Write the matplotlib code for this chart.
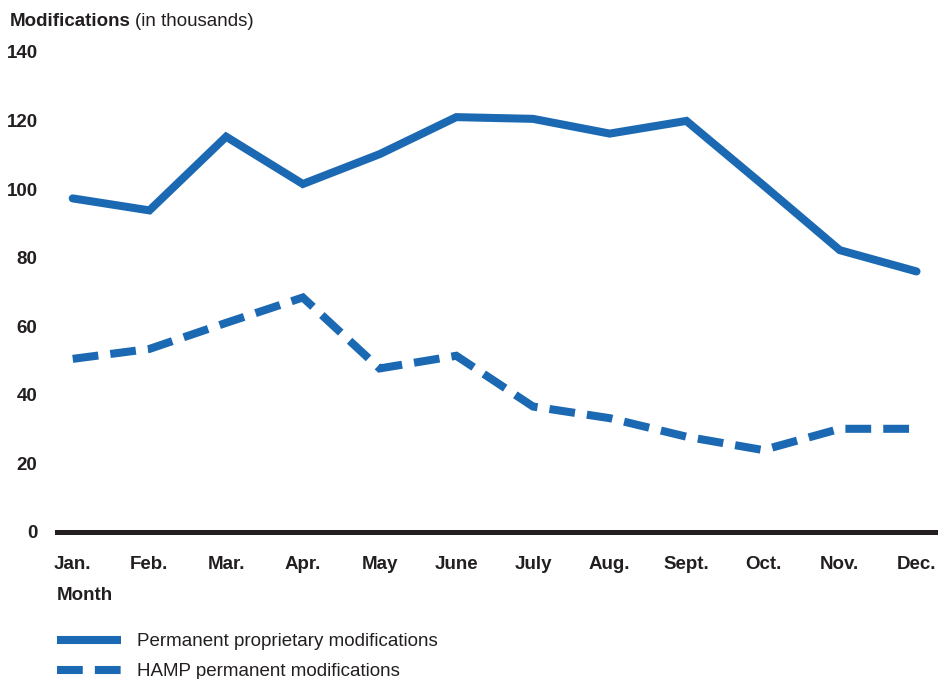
import matplotlib
matplotlib.use("Agg")
import matplotlib.pyplot as plt

plt.rcParams['font.family'] = ['Liberation Sans', 'DejaVu Sans']

#Chart data (thousands of modifications)
months = ['Jan.', 'Feb.', 'Mar.', 'Apr.', 'May', 'June', 'July', 'Aug.', 'Sept.', 'Oct.', 'Nov.', 'Dec.']
proprietary = [97.3, 93.8, 115.3, 101.5, 110.2, 121.0, 120.5, 116.2, 119.9, 101.2, 82.2, 76.0]
hamp = [50.5, 53.4, 61.0, 68.4, 47.7, 51.4, 36.6, 33.2, 27.8, 23.9, 30.1, 30.1]
yticks = [0, 20, 40, 60, 80, 100, 120, 140]

blue = '#1c69b3'
dark = '#231f20'
fs = 13.5

fig = plt.figure(figsize=(9.38, 6.79), dpi=100)
ax = fig.add_axes([57/938, 1-532/679, 1-57/938, (532-52)/679])

x = list(range(len(months)))
ax.plot(x, proprietary, '-', color=blue, linewidth=5.8, solid_capstyle='round',
        solid_joinstyle='miter', label='Permanent proprietary modifications', clip_on=False)
ax.plot(x, hamp, '--', color=blue, linewidth=5.8, dashes=(3.2, 1.5), dash_capstyle='butt',
        dash_joinstyle='miter', label='HAMP permanent modifications', clip_on=False)

ax.set_xlim(-0.205, 11.28)
ax.set_ylim(0, 140)

for s in ['top', 'right', 'left']:
    ax.spines[s].set_visible(False)
ax.spines['bottom'].set_linewidth(3.6)
ax.spines['bottom'].set_color(dark)
ax.spines['bottom'].set_zorder(0)

ax.set_yticks(yticks)
ax.set_yticklabels([str(v) for v in yticks], fontsize=fs, fontweight='bold', color=dark)
ax.set_xticks(x)
ax.set_xticklabels(months, fontsize=fs, fontweight='bold', color=dark)
ax.tick_params(axis='y', length=0, pad=14)
ax.tick_params(axis='x', length=0, pad=17)

#Title with bold and normal parts
t1 = fig.text(10/938, 1-21/679, 'Modifications', fontsize=fs, fontweight='bold',
              color=dark, va='center', ha='left')
fig.canvas.draw()
bb = t1.get_window_extent(renderer=fig.canvas.get_renderer())
fig.text(bb.x1/938 + 4/938, 1-21/679, '(in thousands)', fontsize=fs,
         color=dark, va='center', ha='left')

fig.text(57/938, 1-595/679, 'Month', fontsize=fs, fontweight='bold', color=dark,
         va='center', ha='left')

legend = fig.legend(loc='upper left', bbox_to_anchor=(57/938, 1-633/679), frameon=False,
                    fontsize=fs, handlelength=3.4, handletextpad=0.85, labelspacing=0.7,
                    borderpad=0, borderaxespad=0)
for t in legend.get_texts():
    t.set_color(dark)
for h in legend.get_lines():
    h.set_solid_capstyle('butt')
    h.set_dash_capstyle('butt')

plt.savefig('out.png', dpi=100)
